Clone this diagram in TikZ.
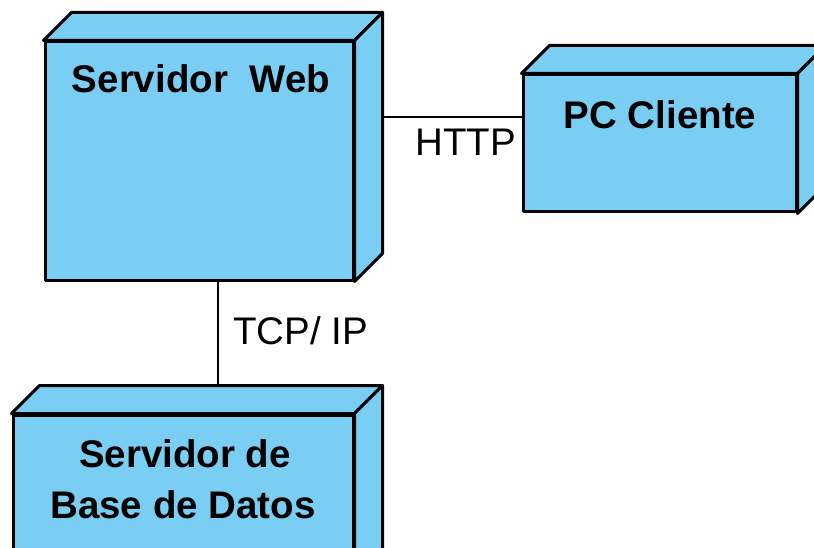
\documentclass[tikz,border=0pt]{standalone}
\usepackage{fontspec}
\setmainfont{Liberation Sans}
\definecolor{nodeblue}{RGB}{122,206,244}
\newcommand\cubefaces[1]{%
  \filldraw[face] (#1.north west) -- ++(28,-28) -- ([shift={(28,-28)}]#1.north east) -- (#1.north east) -- cycle;
  \filldraw[face] (#1.north east) -- ++(28,-28) -- ([shift={(28,-28)}]#1.south east) -- (#1.south east) -- cycle;}
\begin{document}
\begin{tikzpicture}[x=1pt,y=-1pt,
  face/.style={fill=nodeblue, draw=black, line width=3pt, line join=round},
  front/.style={face, rectangle, inner sep=0pt},
  title/.style={font=\fontsize{38.5}{46}\selectfont\bfseries, inner sep=0pt, anchor=base},
  lbl/.style={font=\fontsize{38.5}{46}\selectfont, inner sep=0pt, anchor=base west},
  conn/.style={draw=black, line width=2pt}]
\useasboundingbox (0,0) rectangle (814,548);
\clip (0,0) rectangle (814,548);

% front faces of the three deployment nodes
\node[front, minimum width=308pt, minimum height=238pt] (web) at (199,161) {};
\node[front, minimum width=273pt, minimum height=137pt] (pc) at (659.5,143.5) {};
\node[front, minimum width=340pt, minimum height=160pt] (db) at (183,495) {};

% top and side faces
\cubefaces{web}
\cubefaces{pc}
\cubefaces{db}

% titles
\node[title] (webt) at (201,93) {Servidor\ \ Web};
\node[title] (pct) at (660,129) {PC Cliente};
\node[title] (dbt1) at (185,467) {Servidor de};
\node[title] (dbt2) at (183,518) {Base de Datos};

% connectors
\coordinate (httpy) at (0,117);
\coordinate (tcpx) at (218,0);
\coordinate (webside) at ([xshift=28pt]web.east);
\draw[conn] (webside |- httpy) -- (pc.west |- httpy);
\draw[conn] (web.south -| tcpx) -- ([yshift=28pt]db.north -| tcpx);

% connector labels
\node[lbl] (http) at (415,156) {HTTP};
\node[lbl] (tcp) at (233,344) {TCP/ IP};
\end{tikzpicture}
\end{document}
